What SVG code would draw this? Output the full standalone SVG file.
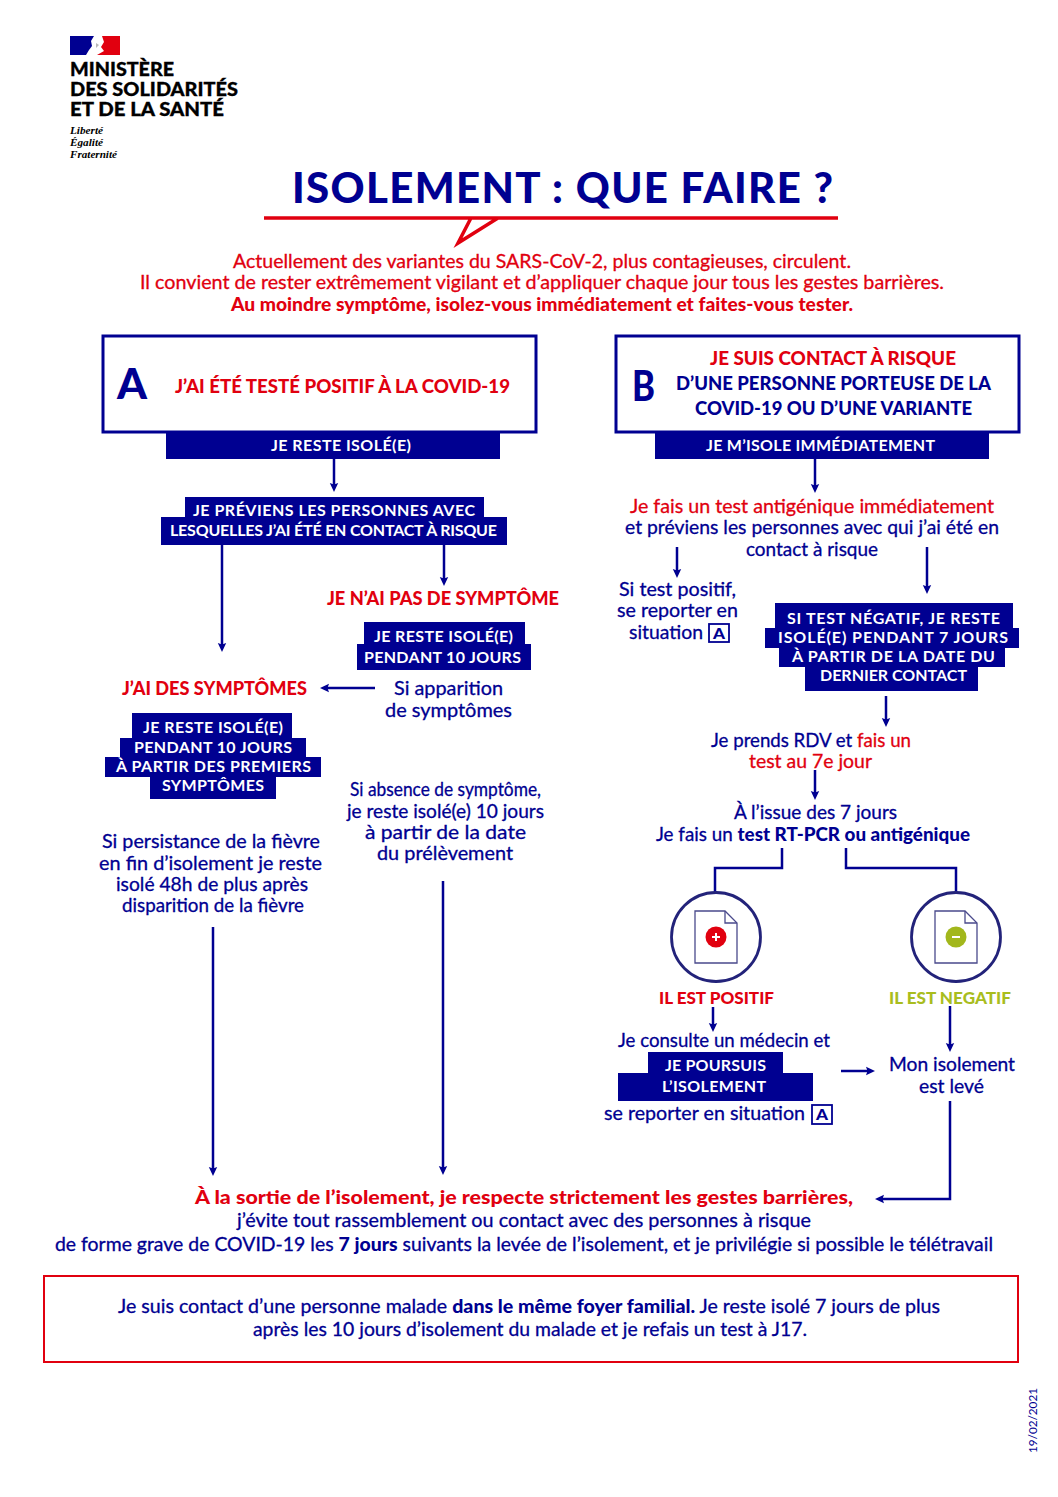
<svg xmlns="http://www.w3.org/2000/svg" width="1058" height="1497" viewBox="0 0 1058 1497">
<style>
text{font-family:"Lato","Noto Sans","Liberation Sans",sans-serif;}
.b{fill:#000091;stroke:#000091;stroke-width:.3;font-size:19px;font-weight:400}
.r{fill:#e1000f;stroke:#e1000f;stroke-width:.3;font-size:19px;font-weight:400}
.rb{fill:#e1000f;font-size:18.5px;font-weight:900}
.nb{fill:#000091;font-size:18.5px;font-weight:900}
.w{fill:#fff;font-size:16px;font-weight:700}
.lg{fill:#000;font-size:18px;font-weight:900;stroke:#000;stroke-width:.3}
.dv{font-family:"Liberation Serif",serif;font-style:italic;font-weight:700;font-size:10.5px;fill:#000}
.bar{fill:#000091}
.c{fill:none;stroke:#000091;stroke-width:2.5}
.a{fill:none;stroke:#000091;stroke-width:2.5;marker-end:url(#ah)}
.box{fill:#fff;stroke:#000091;stroke-width:3}
.sb{fill:#fff;stroke:#000091;stroke-width:1.8}
.sa{fill:#000091;font-size:15px;font-weight:900}
.circ{fill:#fff;stroke:#23237a;stroke-width:2.8}
.doc{fill:#fff;stroke:#4a4a8c;stroke-width:1.3}
.t{stroke:none;font-weight:900}
</style>
<defs>
<marker id="ah" markerUnits="userSpaceOnUse" markerWidth="10" markerHeight="10" refX="5" refY="5" orient="auto"><path d="M0,0.8L9,5L0,9.2L1.5,5Z" fill="#000091"/></marker>
</defs>
<rect width="1058" height="1497" fill="#fff"/>

<g id="logo">
<path d="M70,36H94L91,41L92,46L89,50L86,55H70Z" fill="#000091"/>
<path d="M102,36H120V55H97L104,51L101,47L104,42Z" fill="#e1000f"/>
<path d="M96,43L99,45L96,48Z" fill="#b9b9b9"/>
<text class="lg" x="70" y="76" textLength="104" lengthAdjust="spacingAndGlyphs">MINISTÈRE</text>
<text class="lg" x="70" y="96" textLength="168" lengthAdjust="spacingAndGlyphs">DES SOLIDARITÉS</text>
<text class="lg" x="70" y="116" textLength="154" lengthAdjust="spacingAndGlyphs">ET DE LA SANTÉ</text>
<text class="dv" x="70" y="134" textLength="33" lengthAdjust="spacingAndGlyphs">Liberté</text>
<text class="dv" x="70" y="146" textLength="33" lengthAdjust="spacingAndGlyphs">Égalité</text>
<text class="dv" x="70" y="158" textLength="47" lengthAdjust="spacingAndGlyphs">Fraternité</text>
</g>

<g id="title">
<text x="292" y="203" textLength="541" lengthAdjust="spacing" style="font-size:42px;font-weight:900;fill:#000091">ISOLEMENT : QUE FAIRE ?</text>
<path d="M264,218H498L458,243L471,218H838" fill="none" stroke="#e1000f" stroke-width="3.5"/>
</g>

<g id="intro">
<text class="r" x="233" y="268" textLength="618" lengthAdjust="spacingAndGlyphs">Actuellement des variantes du SARS-CoV-2, plus contagieuses, circulent.</text>
<text class="r" x="140" y="289" textLength="804" lengthAdjust="spacingAndGlyphs">Il convient de rester extrêmement vigilant et d’appliquer chaque jour tous les gestes barrières.</text>
<text class="rb" x="231" y="311" textLength="622" lengthAdjust="spacingAndGlyphs">Au moindre symptôme, isolez-vous immédiatement et faites-vous tester.</text>
</g>

<g id="connectors">
<path class="a" d="M334,459V488"/>
<path class="a" d="M222,545V648"/>
<path class="a" d="M444,545V582"/>
<path class="a" d="M375,688H324"/>
<path class="a" d="M213,927V1172"/>
<path class="a" d="M443,881V1171"/>
<path class="a" d="M815,459V489"/>
<path class="a" d="M677,547V574"/>
<path class="a" d="M927,547V590"/>
<path class="a" d="M886,696V723"/>
<path class="a" d="M815,770V796"/>
<path class="c" d="M782,848V868H715V892"/>
<path class="c" d="M846,848V868H956V892"/>
<path class="a" d="M713,1007V1028"/>
<path class="a" d="M950,1006V1048"/>
<path class="a" d="M841,1071H871"/>
<path class="a" d="M950,1101V1199H879"/>
</g>

<g id="node-a">
<rect class="box" x="103" y="336" width="433" height="96"/>
<text x="117" y="399" textLength="30" lengthAdjust="spacingAndGlyphs" style="font-size:42px;font-weight:900;fill:#000091">A</text>
<text class="rb" x="175" y="393" textLength="335" lengthAdjust="spacingAndGlyphs">J’AI ÉTÉ TESTÉ POSITIF À LA COVID-19</text>
<rect class="bar" x="166" y="433" width="334" height="26"/>
<text class="w" x="271" y="451" textLength="140" lengthAdjust="spacing">JE RESTE ISOLÉ(E)</text>
</g>

<g id="node-previens">
<rect class="bar" x="185" y="497" width="299" height="21"/>
<rect class="bar" x="161" y="517" width="346" height="28"/>
<text class="w" x="193" y="516" textLength="282" lengthAdjust="spacing">JE PRÉVIENS LES PERSONNES AVEC</text>
<text class="w" x="170" y="536" textLength="327" lengthAdjust="spacing">LESQUELLES J’AI ÉTÉ EN CONTACT À RISQUE</text>
</g>

<g id="node-sans-symptome">
<text class="rb" x="327" y="605" textLength="232" lengthAdjust="spacingAndGlyphs">JE N’AI PAS DE SYMPTÔME</text>
<rect class="bar" x="364" y="622" width="161" height="23"/>
<rect class="bar" x="357" y="644" width="174" height="26"/>
<text class="w" x="374" y="642" textLength="139" lengthAdjust="spacing">JE RESTE ISOLÉ(E)</text>
<text class="w" x="364" y="663" textLength="157" lengthAdjust="spacing">PENDANT 10 JOURS</text>
<text class="b" x="394" y="695" textLength="109" lengthAdjust="spacingAndGlyphs">Si apparition</text>
<text class="b" x="385" y="717" textLength="127" lengthAdjust="spacingAndGlyphs">de symptômes</text>
</g>

<g id="node-symptomes">
<text class="rb" x="122" y="695" textLength="185" lengthAdjust="spacingAndGlyphs">J’AI DES SYMPTÔMES</text>
<rect class="bar" x="132" y="713" width="160" height="26"/>
<rect class="bar" x="120" y="738" width="186" height="20"/>
<rect class="bar" x="105" y="757" width="216" height="20"/>
<rect class="bar" x="150" y="776" width="126" height="23"/>
<text class="w" x="143" y="733" textLength="140" lengthAdjust="spacing">JE RESTE ISOLÉ(E)</text>
<text class="w" x="134" y="753" textLength="158" lengthAdjust="spacing">PENDANT 10 JOURS</text>
<text class="w" x="116" y="772" textLength="195" lengthAdjust="spacing">À PARTIR DES PREMIERS</text>
<text class="w" x="162" y="791" textLength="102" lengthAdjust="spacing">SYMPTÔMES</text>
</g>

<g id="node-absence">
<text class="b" x="350" y="796" textLength="191" lengthAdjust="spacingAndGlyphs">Si absence de symptôme,</text>
<text class="b" x="347" y="818" textLength="197" lengthAdjust="spacingAndGlyphs">je reste isolé(e) 10 jours</text>
<text class="b" x="365" y="839" textLength="161" lengthAdjust="spacingAndGlyphs">à partir de la date</text>
<text class="b" x="377" y="860" textLength="136" lengthAdjust="spacingAndGlyphs">du prélèvement</text>
</g>

<g id="node-persistance">
<text class="b" x="102" y="848" textLength="218" lengthAdjust="spacingAndGlyphs">Si persistance de la fièvre</text>
<text class="b" x="99" y="870" textLength="223" lengthAdjust="spacingAndGlyphs">en fin d’isolement je reste</text>
<text class="b" x="116" y="891" textLength="192" lengthAdjust="spacingAndGlyphs">isolé 48h de plus après</text>
<text class="b" x="122" y="912" textLength="182" lengthAdjust="spacingAndGlyphs">disparition de la fièvre</text>
</g>

<g id="node-b">
<rect class="box" x="616" y="336" width="403" height="96"/>
<text x="632" y="401" textLength="23" lengthAdjust="spacingAndGlyphs" style="font-size:42px;font-weight:900;fill:#000091">B</text>
<text class="rb" x="710" y="365" textLength="246" lengthAdjust="spacingAndGlyphs">JE SUIS CONTACT À RISQUE</text>
<text class="nb" x="676" y="390" textLength="315" lengthAdjust="spacingAndGlyphs">D’UNE PERSONNE PORTEUSE DE LA</text>
<text class="nb" x="695" y="415" textLength="277" lengthAdjust="spacingAndGlyphs">COVID-19 OU D’UNE VARIANTE</text>
<rect class="bar" x="655" y="433" width="334" height="26"/>
<text class="w" x="706" y="451" textLength="229" lengthAdjust="spacing">JE M’ISOLE IMMÉDIATEMENT</text>
</g>

<g id="node-test">
<text class="r" x="630" y="513" textLength="364" lengthAdjust="spacingAndGlyphs">Je fais un test antigénique immédiatement</text>
<text class="b" x="625" y="534" textLength="374" lengthAdjust="spacingAndGlyphs">et préviens les personnes avec qui j’ai été en</text>
<text class="b" x="746" y="556" textLength="132" lengthAdjust="spacingAndGlyphs">contact à risque</text>
</g>

<g id="node-si-positif">
<text class="b" x="619" y="596" textLength="117" lengthAdjust="spacingAndGlyphs">Si test positif,</text>
<text class="b" x="617" y="617" textLength="121" lengthAdjust="spacingAndGlyphs">se reporter en</text>
<text class="b" x="629" y="639" textLength="74" lengthAdjust="spacingAndGlyphs">situation</text>
<rect class="sb" x="709" y="624" width="20" height="18"/>
<text class="sa" x="713" y="639" textLength="12" lengthAdjust="spacingAndGlyphs">A</text>
</g>

<g id="node-si-negatif">
<rect class="bar" x="775" y="603" width="238" height="26"/>
<rect class="bar" x="765" y="628" width="254" height="20"/>
<rect class="bar" x="779" y="647" width="226" height="20"/>
<rect class="bar" x="805" y="666" width="173" height="25"/>
<text class="w" x="787" y="624" textLength="213" lengthAdjust="spacing">SI TEST NÉGATIF, JE RESTE</text>
<text class="w" x="778" y="643" textLength="230" lengthAdjust="spacing">ISOLÉ(E) PENDANT 7 JOURS</text>
<text class="w" x="792" y="662" textLength="203" lengthAdjust="spacing">À PARTIR DE LA DATE DU</text>
<text class="w" x="820" y="681" textLength="147" lengthAdjust="spacing">DERNIER CONTACT</text>
</g>

<g id="node-rdv">
<text class="b" x="711" y="747" textLength="200" lengthAdjust="spacingAndGlyphs">Je prends RDV et <tspan style="fill:#e1000f;stroke:#e1000f">fais un</tspan></text>
<text class="r" x="749" y="768" textLength="123" lengthAdjust="spacingAndGlyphs">test au 7e jour</text>
</g>

<g id="node-issue">
<text class="b" x="734" y="819" textLength="163" lengthAdjust="spacingAndGlyphs">À l’issue des 7 jours</text>
<text class="b" x="656" y="841" textLength="314" lengthAdjust="spacingAndGlyphs">Je fais un <tspan class="t">test RT-PCR ou antigénique</tspan></text>
</g>

<g id="node-positif">
<circle class="circ" cx="716" cy="937" r="44.5"/>
<path class="doc" d="M695,911H725L737,923V963H695Z"/>
<path class="doc" d="M725,911V923H737" style="fill:none"/>
<circle cx="716" cy="937" r="10.5" fill="#e1000f"/>
<path d="M712,937H720M716,933V941" stroke="#fff" stroke-width="2"/>
<text class="rb" x="659" y="1004" textLength="115" lengthAdjust="spacingAndGlyphs" style="font-size:16.5px">IL EST POSITIF</text>
</g>

<g id="node-negatif">
<circle class="circ" cx="956" cy="937" r="44.5"/>
<path class="doc" d="M935,911H965L977,923V963H935Z"/>
<path class="doc" d="M965,911V923H977" style="fill:none"/>
<circle cx="956" cy="937" r="10.5" fill="#a2b71c"/>
<path d="M952,937H960" stroke="#fff" stroke-width="2"/>
<text x="889" y="1004" textLength="122" lengthAdjust="spacingAndGlyphs" style="font-size:16.5px;font-weight:900;fill:#a9bd1e">IL EST NEGATIF</text>
</g>

<g id="node-consulte">
<text class="b" x="618" y="1047" textLength="212" lengthAdjust="spacingAndGlyphs">Je consulte un médecin et</text>
<rect class="bar" x="648" y="1052" width="135" height="22"/>
<rect class="bar" x="618" y="1073" width="195" height="28"/>
<text class="w" x="665" y="1071" textLength="101" lengthAdjust="spacing">JE POURSUIS</text>
<text class="w" x="662" y="1092" textLength="104" lengthAdjust="spacing">L’ISOLEMENT</text>
<text class="b" x="604" y="1120" textLength="201" lengthAdjust="spacingAndGlyphs">se reporter en situation</text>
<rect class="sb" x="812" y="1105" width="20" height="19"/>
<text class="sa" x="816" y="1120" textLength="12" lengthAdjust="spacingAndGlyphs">A</text>
</g>

<g id="node-leve">
<text class="b" x="889" y="1071" textLength="126" lengthAdjust="spacingAndGlyphs">Mon isolement</text>
<text class="b" x="919" y="1093" textLength="65" lengthAdjust="spacingAndGlyphs">est levé</text>
</g>

<g id="node-sortie">
<text class="rb" x="195" y="1204" textLength="658" lengthAdjust="spacingAndGlyphs" style="font-size:19.5px">À la sortie de l’isolement, je respecte strictement les gestes barrières,</text>
<text class="b" x="237" y="1227" textLength="574" lengthAdjust="spacingAndGlyphs">j’évite tout rassemblement ou contact avec des personnes à risque</text>
<text class="b" x="55" y="1251" textLength="938" lengthAdjust="spacingAndGlyphs">de forme grave de COVID-19 les <tspan class="t">7 jours</tspan> suivants la levée de l’isolement, et je privilégie si possible le télétravail</text>
</g>

<g id="node-foyer">
<rect x="44" y="1276" width="974" height="86" fill="#fff" stroke="#e1000f" stroke-width="2"/>
<text class="b" x="118" y="1313" textLength="822" lengthAdjust="spacingAndGlyphs">Je suis contact d’une personne malade <tspan class="t">dans le même foyer familial.</tspan> Je reste isolé 7 jours de plus</text>
<text class="b" x="253" y="1336" textLength="554" lengthAdjust="spacingAndGlyphs">après les 10 jours d’isolement du malade et je refais un test à J17.</text>
</g>

<text transform="translate(1037,1453) rotate(-90)" textLength="65" lengthAdjust="spacingAndGlyphs" style="font-size:11.5px;fill:#000091">19/02/2021</text>
</svg>
